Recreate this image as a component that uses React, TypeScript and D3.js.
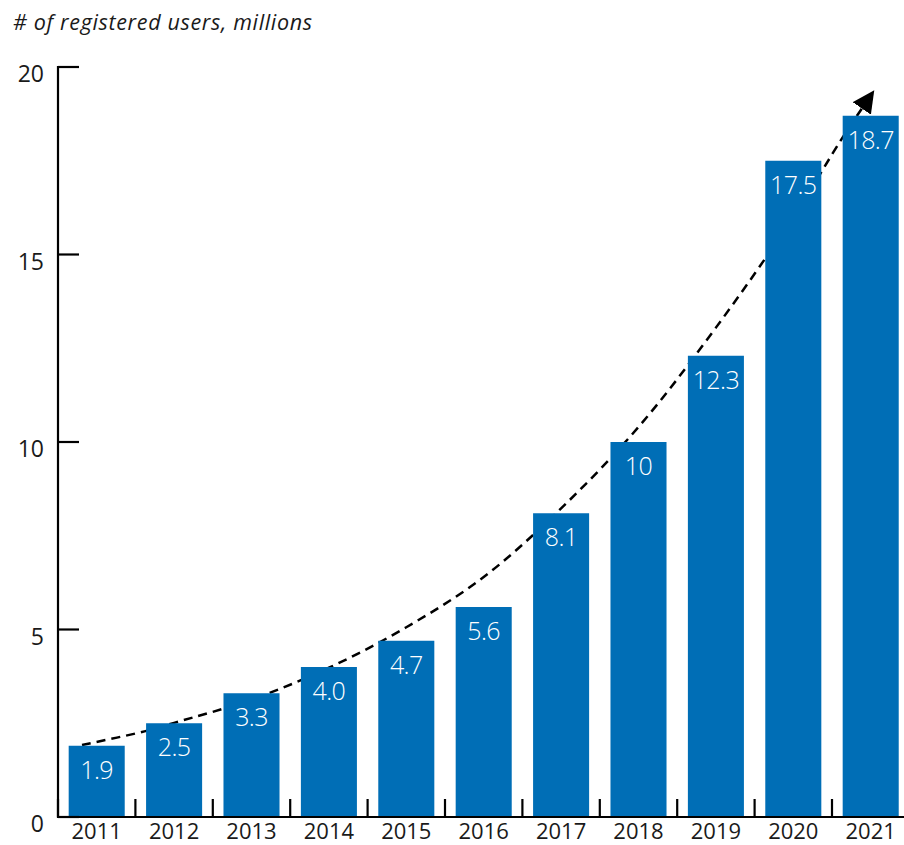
import React from "react";
import * as d3 from "d3";

const years = ["2011", "2012", "2013", "2014", "2015", "2016", "2017", "2018", "2019", "2020", "2021"];
const users = [1.9, 2.5, 3.3, 4.0, 4.7, 5.6, 8.1, 10, 12.3, 17.5, 18.7];
const valueLabels = ["1.9", "2.5", "3.3", "4.0", "4.7", "5.6", "8.1", "10", "12.3", "17.5", "18.7"];
const yTicks = [0, 5, 10, 15, 20];
// trend line (fractional year index, value)
const trendIdx = [-0.19, 0.63, 1, 2, 3, 4, 5, 6, 7, 8, 9, 9.64, 10.03];
const trendVal = [1.92, 2.29, 2.51, 3.13, 3.98, 5.06, 6.4, 8.23, 10.4, 13.05, 16.0, 18.13, 19.33];
const title = "# of registered users, millions";

const W = 904;
const H = 845;
const FONT = "'Open Sans', 'Noto Sans', sans-serif";
const BAR = "#006EB6";

export default function App() {
  const x = d3.scaleBand<string>().domain(years).range([58, 909.4]).paddingInner(0.276).paddingOuter(0.138);
  const y = d3.scaleLinear().domain([0, 20]).range([817, 67]);
  const bw = x.bandwidth();
  const step = x.step();
  const c0 = (x(years[0]) as number) + bw / 2;
  const xi = d3.scaleLinear().domain([0, 1]).range([c0, c0 + step]);
  const pts: [number, number][] = trendIdx.map((t, i) => [xi(t), y(trendVal[i])]);
  const line = d3.line().curve(d3.curveCatmullRom.alpha(0.5))(pts) || "";

  const boundaries = years.map((yr) => (x(yr) as number) - (step - bw) / 2);

  return (
    <svg width={W} height={H} style={{ position: "absolute", left: 0, top: 0, background: "#fff" }}>
      <defs>
        <marker id="arr" viewBox="0 0 10 10" refX="9" refY="5" markerWidth="22" markerHeight="22" markerUnits="userSpaceOnUse" orient="auto">
          <path d="M0,0 L10,5 L0,10 Z" fill="#000" />
        </marker>
      </defs>
      <text x={13} y={30} fontFamily={FONT} fontStyle="italic" fontSize={21.5} textLength={299} lengthAdjust="spacing" fill="#1a1a1a">{title}</text>

      {/* trend line behind bars */}
      <path d={line} fill="none" stroke="#000" strokeWidth={2.5} strokeDasharray="9,6" markerEnd="url(#arr)" />

      {years.map((yr, i) => (
        <rect key={yr} x={x(yr)} y={y(users[i])} width={bw} height={y(0) - y(users[i])} fill={BAR} />
      ))}
      {years.map((yr, i) => (
        <text key={"v" + yr} x={(x(yr) as number) + bw / 2} y={y(users[i]) + 33} textAnchor="middle" fontFamily={FONT} fontWeight={300} fontSize={25} letterSpacing={-0.6} fill="#fff">{valueLabels[i]}</text>
      ))}

      {/* axes */}
      <line x1={58} x2={58} y1={66} y2={818} stroke="#000" strokeWidth={2.2} />
      <line x1={57} x2={W} y1={817} y2={817} stroke="#000" strokeWidth={2.2} />
      {yTicks.map((t) => (
        <g key={"yt" + t}>
          <line x1={58} x2={79} y1={y(t)} y2={y(t)} stroke="#000" strokeWidth={2.2} />
          <text x={44} y={y(t) + 15} textAnchor="end" fontFamily={FONT} fontSize={23} fill="#1a1a1a">{t}</text>
        </g>
      ))}
      {boundaries.map((b, i) => (
        <line key={"xt" + i} x1={b} x2={b} y1={817} y2={799} stroke="#000" strokeWidth={2.2} />
      ))}
      {years.map((yr) => (
        <text key={"xl" + yr} x={(x(yr) as number) + bw / 2} y={839} textAnchor="middle" fontFamily={FONT} fontSize={22} fill="#1a1a1a">{yr}</text>
      ))}
    </svg>
  );
}
